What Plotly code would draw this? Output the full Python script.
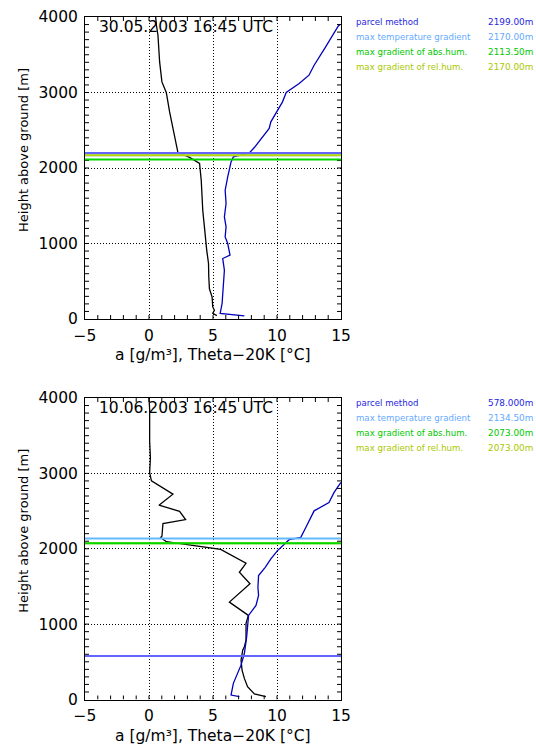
import numpy as np
import plotly.graph_objects as go

W, H = 536, 745

# ---------------- data ----------------
titles = ["30.05.2003 16:45 UTC", "10.06.2003 16:45 UTC"]

p1_a_h = [45, 75, 115, 160, 290, 400, 560, 735, 910, 1045, 1220, 1440, 1620, 1840, 2060, 2140,
          2205, 2523, 2743, 3000, 3140, 3405, 3759, 3891, 4000]
p1_a = [5.3, 4.98, 5.11, 4.98, 4.93, 4.72, 4.67, 4.65, 4.51, 4.41, 4.33, 4.2, 4.15, 4.08, 3.95, 3.17,
        2.26, 1.87, 1.61, 1.35, 1.01, 0.83, 0.70, 0.58, 0.52]
p1_t_h = [41, 73, 205, 470, 646, 801, 845, 1000, 1088, 1220, 1352, 1530, 1706, 1882, 2081, 2147,
          2200, 2271, 2412, 2523, 2611, 2722, 2876, 3000, 3119, 3229, 3361, 3604, 3736, 3882, 3905]
p1_t = [7.45, 5.56, 5.71, 5.81, 5.89, 5.76, 6.33, 6.15, 5.95, 6.02, 5.89, 6.02, 5.95, 6.15, 6.41, 6.59,
        7.84, 8.23, 8.87, 9.39, 9.52, 9.91, 10.43, 10.72, 11.73, 12.5, 12.9, 13.8, 14.3, 14.79, 14.95]

p2_a_h = [37, 73, 169, 280, 390, 522, 654, 698, 786, 1007, 1116, 1292, 1535, 1688, 1807, 1992,
          2094, 2151, 2166, 2334, 2387, 2497, 2578, 2724, 2900, 3010, 3207, 3428, 3847, 4000]
p2_a = [9.13, 8.23, 7.7, 7.45, 7.27, 7.19, 7.32, 7.45, 7.58, 7.58, 7.76, 6.28, 7.89, 7.06, 7.58, 5.6,
        1.35, 0.91, 1.01, 1.09, 2.86, 2.39, 0.78, 1.87, 0.19, 0.05, 0.11, 0.05, 0.05, 0.0]
p2_t_h = [37, 59, 214, 456, 610, 830, 1116, 1248, 1380, 1490, 1645, 1754, 1865, 1975, 2120, 2151,
          2283, 2503, 2613, 2745, 2856, 2880]
p2_t = [7.06, 6.41, 6.59, 7.19, 7.45, 7.63, 7.78, 8.36, 8.56, 8.51, 8.56, 9.08, 9.52, 10.04, 10.95, 11.86,
        12.25, 12.9, 14.06, 14.45, 14.9, 15.0]

methods = ["parcel method", "max temperature gradient", "max gradient of abs.hum.", "max gradient of rel.hum."]
p1_heights = [2199.00, 2170.00, 2113.50, 2170.00]
p2_heights = [578.000, 2134.50, 2073.00, 2073.00]
p1_labels = ["2199.00m", "2170.00m", "2113.50m", "2170.00m"]
p2_labels = ["578.000m", "2134.50m", "2073.00m", "2073.00m"]

x_range = [-5, 15]
y_range = [0, 4000]
x_major, x_minor = 5, 1
y_major, y_minor = 1000, 100
x_label = "a [g/m³], Theta−20K [°C]"
y_label = "Height above ground [m]"

# ---------------- styles ----------------
text_colors = ["rgb(30,30,225)", "rgb(100,170,255)", "rgb(0,200,0)", "rgb(170,200,0)"]
line_colors = ["rgb(100,100,255)", "rgb(100,185,255)", "rgb(0,215,0)", "rgb(185,215,0)"]
line_widths = [2, 2, 2, 2]
FONT = "DejaVu Sans"
TICKLEN = 4

fig = go.Figure()

panels = [
    dict(ax="x", ay="y", a_h=p1_a_h, a=p1_a, t_h=p1_t_h, t=p1_t, hs=p1_heights, labs=p1_labels,
         top=17, bot=319, title=titles[0]),
    dict(ax="x2", ay="y2", a_h=p2_a_h, a=p2_a, t_h=p2_t_h, t=p2_t, hs=p2_heights, labs=p2_labels,
         top=398, bot=699.5, title=titles[1]),
]

x_ticks = np.arange(x_range[0] + x_minor, x_range[1], x_minor)
y_ticks = np.arange(y_range[0] + y_minor, y_range[1], y_minor)

left_px, right_px = 85, 341
annotations = []
shapes = []
for i, p in enumerate(panels):
    fig.add_trace(go.Scatter(x=p["a"], y=p["a_h"], mode="lines", xaxis=p["ax"], yaxis=p["ay"],
                             line=dict(color="black", width=1.3), showlegend=False))
    fig.add_trace(go.Scatter(x=p["t"], y=p["t_h"], mode="lines", xaxis=p["ax"], yaxis=p["ay"],
                             line=dict(color="rgb(0,0,190)", width=1.3), showlegend=False))
    for k in [0, 1, 3, 2]:
        shapes.append(dict(type="line", xref=p["ax"] + " domain", yref=p["ay"],
                           x0=0, x1=1, y0=p["hs"][k], y1=p["hs"][k], layer="above",
                           line=dict(color=line_colors[k], width=line_widths[k])))
    # inward minor tick marks on all four sides, as short segments (length TICKLEN pixels)
    dx = TICKLEN * (x_range[1] - x_range[0]) / (right_px - left_px)
    dy = TICKLEN * (y_range[1] - y_range[0]) / (p["bot"] - p["top"])
    tx, ty = [], []
    for xv in x_ticks:
        tx += [xv, xv, None, xv, xv, None]
        ty += [y_range[0], y_range[0] + dy, None, y_range[1], y_range[1] - dy, None]
    for yv in y_ticks:
        tx += [x_range[0], x_range[0] + dx, None, x_range[1], x_range[1] - dx, None]
        ty += [yv, yv, None, yv, yv, None]
    fig.add_trace(go.Scatter(x=tx, y=ty, mode="lines", xaxis=p["ax"], yaxis=p["ay"], showlegend=False,
                             hoverinfo="skip", connectgaps=False, line=dict(color="black", width=1)))
    for k in range(4):
        ypx = p["top"] + 5 + 15 * k
        annotations.append(dict(text=methods[k], xref="paper", yref="paper", x=354 / W, y=1 - ypx / H,
                                xanchor="left", yanchor="middle", showarrow=False,
                                font=dict(family=FONT, size=8.6, color=text_colors[k])))
        annotations.append(dict(text=p["labs"][k], xref="paper", yref="paper", x=535 / W, y=1 - ypx / H,
                                xanchor="right", yanchor="middle", showarrow=False,
                                font=dict(family=FONT, size=8.9, color=text_colors[k])))
    annotations.append(dict(text=p["title"], xref="paper", yref="paper", x=97 / W, y=1 - (p["top"] + 9.5) / H,
                            xanchor="left", yanchor="middle", showarrow=False,
                            font=dict(family=FONT, size=15.5, color="black")))
    annotations.append(dict(text=x_label, xref="paper", yref="paper", x=(left_px + right_px) / 2 / W,
                            y=1 - (p["bot"] + 36) / H, xanchor="center", yanchor="middle", showarrow=False,
                            font=dict(family=FONT, size=15.5, color="black")))
    annotations.append(dict(text=y_label, xref="paper", yref="paper", x=24 / W,
                            y=1 - ((p["top"] + p["bot"]) / 2 - 18) / H, xanchor="center", yanchor="middle",
                            textangle=-90, showarrow=False,
                            font=dict(family=FONT, size=13, color="black")))

base = dict(showgrid=True, gridcolor="black", griddash="1px,2px", gridwidth=1,
            showline=True, linecolor="black", linewidth=1, mirror=True, ticks="",
            automargin=False, zeroline=False, tickfont=dict(family=FONT, size=15.5, color="black"))

xa = dict(base, range=x_range, dtick=x_major, tick0=x_range[0], domain=[left_px / W, right_px / W],
          ticklabelstandoff=2)
ya = dict(base, range=y_range, dtick=y_major, tick0=y_range[0], ticklabelstandoff=3)

fig.update_layout(
    width=W, height=H, margin=dict(l=0, r=0, t=0, b=0, autoexpand=False),
    paper_bgcolor="white", plot_bgcolor="white", showlegend=False,
    xaxis=dict(xa, anchor="y"),
    yaxis=dict(ya, anchor="x", domain=[1 - panels[0]["bot"] / H, 1 - panels[0]["top"] / H]),
    xaxis2=dict(xa, anchor="y2"),
    yaxis2=dict(ya, anchor="x2", domain=[1 - panels[1]["bot"] / H, 1 - panels[1]["top"] / H]),
    annotations=annotations, shapes=shapes,
)

fig.write_html("out.html")
